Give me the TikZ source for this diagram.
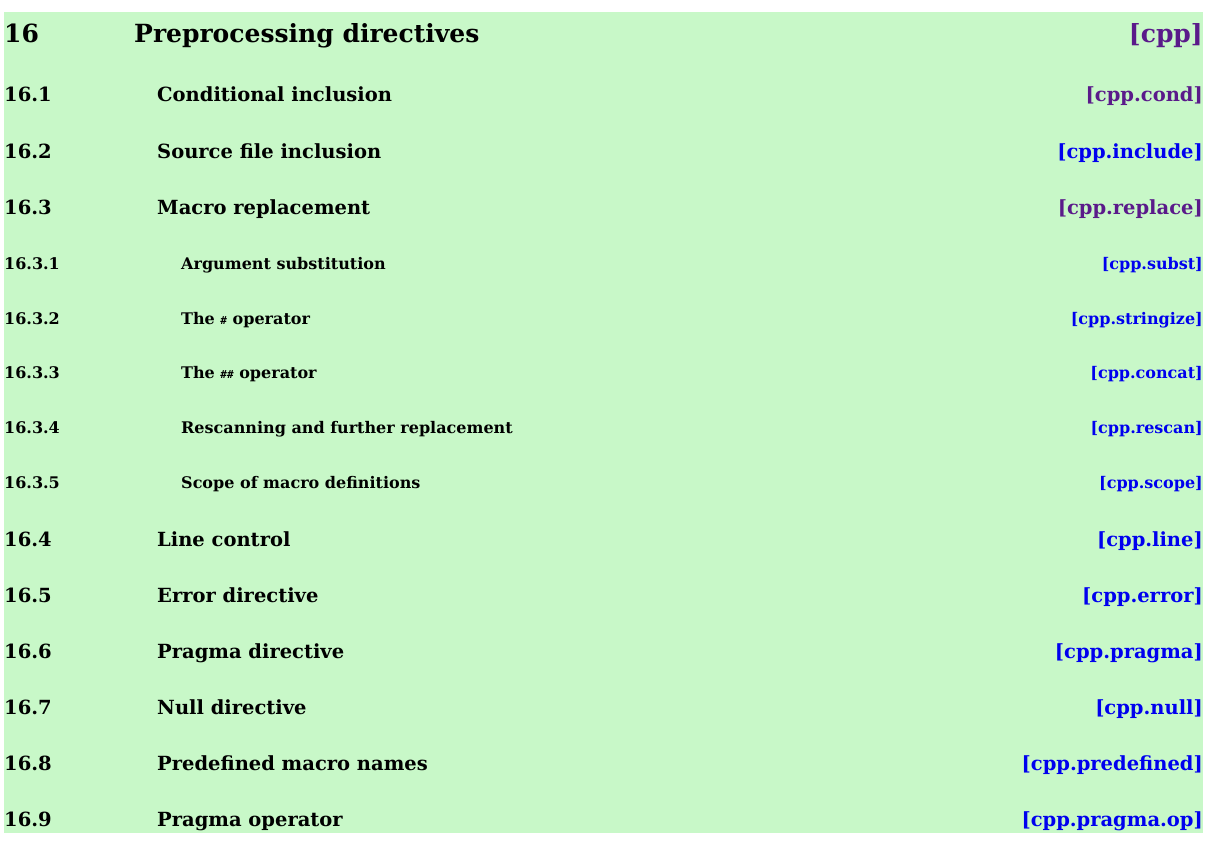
\documentclass[tikz,border=0pt]{standalone}
\usepackage{fontspec}
\setmainfont{DejaVu Serif}
\setmonofont{DejaVu Sans Mono}
\definecolor{bg}{HTML}{C8F8C8}
\definecolor{vis}{HTML}{5A1A8A}
\definecolor{lnk}{HTML}{0000EE}
\begin{document}
\begin{tikzpicture}[x=1pt,y=-1pt,
  h/.style={anchor=base west,inner sep=0,font=\fontsize{25}{30}\selectfont\bfseries},
  m/.style={anchor=base west,inner sep=0,font=\fontsize{19.5}{24}\selectfont\bfseries},
  s/.style={anchor=base west,inner sep=0,font=\fontsize{16}{20}\selectfont\bfseries},
  r/.style={anchor=base east,inner sep=0}]
\useasboundingbox (0,0) rectangle (1215,856);
\fill[bg] (4,12) rectangle (1203,833);
\node[h] (n0) at (4,43) {16};
\node[h] (t0) at (134,43) {Preprocessing directives};
\node[h,r,text=vis] (l0) at (1203,43) {[cpp]};
\foreach \n/\t/\lab/\c/\y in {
 1/Conditional inclusion/cpp.cond/vis/102,
 2/Source file inclusion/cpp.include/lnk/158,
 3/Macro replacement/cpp.replace/vis/214,
 4/Line control/cpp.line/lnk/546,
 5/Error directive/cpp.error/lnk/602,
 6/Pragma directive/cpp.pragma/lnk/658,
 7/Null directive/cpp.null/lnk/714,
 8/Predefined macro names/cpp.predefined/lnk/770,
 9/Pragma operator/cpp.pragma.op/lnk/826}{
 \node[m] (n\n) at (4,\y) {16.\n};
 \node[m] (t\n) at (157,\y) {\t};
 \node[m,r,text=\c] (l\n) at (1203,\y) {[\lab]};
}
\foreach \n/\t/\lab/\y in {
 1/Argument substitution/cpp.subst/269,
 2/The {\ttfamily\fontsize{11}{12}\selectfont\#} operator/cpp.stringize/324,
 3/The {\ttfamily\fontsize{11}{12}\selectfont\#\#} operator/cpp.concat/378,
 4/Rescanning and further replacement/cpp.rescan/433,
 5/Scope of macro definitions/cpp.scope/488}{
 \node[s] (sn\n) at (4,\y) {16.3.\n};
 \node[s] (st\n) at (181,\y) {\t};
 \node[s,r,text=lnk] (sl\n) at (1203,\y) {[\lab]};
}
\end{tikzpicture}
\end{document}
